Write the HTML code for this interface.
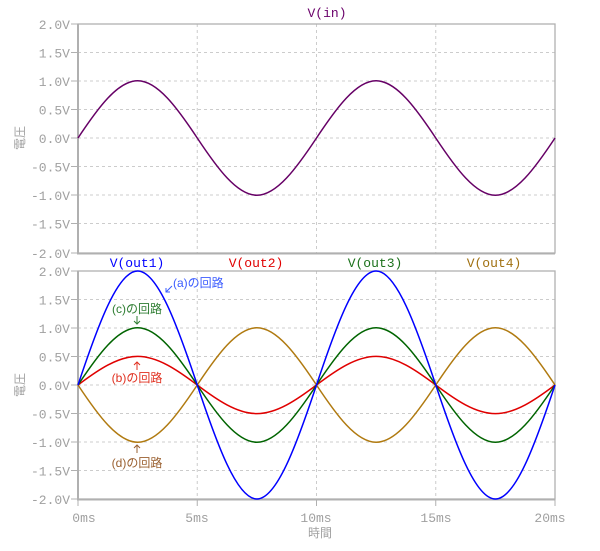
<!DOCTYPE html>
<html><head><meta charset="utf-8"><style>
html,body{margin:0;padding:0;background:#fff;}
svg{display:block;}
.tk{font-family:"Liberation Mono",monospace;font-size:13px;fill:#a0a0a0;}
.an{font-family:"Liberation Sans","Noto Sans CJK JP",sans-serif;font-size:12px;}
.yl{font-family:"Liberation Sans","Noto Sans CJK JP",sans-serif;font-size:12px;fill:#a0a0a0;}
</style></head><body>
<svg width="600" height="551" viewBox="0 0 600 551" xmlns="http://www.w3.org/2000/svg">
<g stroke="#cccccc" stroke-width="1" stroke-dasharray="3,3" fill="none">
<path d="M78,52.5H555M78,81H555M78,109.5H555M78,138H555M78,166.5H555M78,195H555M78,223.5H555M197.25,24V253M316.5,24V253M435.75,24V253"/>
<path d="M78,299.5H555M78,328H555M78,356.5H555M78,385H555M78,413.5H555M78,442H555M78,470.5H555M197.25,271V499M316.5,271V499M435.75,271V499"/>
</g>
<g stroke="#b0b0b0" fill="none">
<rect x="78" y="24" width="477" height="229" stroke-width="1.3"/>
<rect x="78" y="271" width="477" height="228" stroke-width="1.3"/>
<path d="M78,24V254M77,253.5H555M78,271V500M77,499.5H555" stroke-width="2"/>
<path d="M71,24H78M71,52.5H78M71,81H78M71,109.5H78M71,138H78M71,166.5H78M71,195H78M71,223.5H78M71,253H78"/>
<path d="M71,271H78M71,299.5H78M71,328H78M71,356.5H78M71,385H78M71,413.5H78M71,442H78M71,470.5H78M71,499H78"/>
<path d="M78,499V506M197.25,499V506M316.5,499V506M435.75,499V506M555,499V506"/>
</g>
<g class="tk" text-anchor="end">
<text x="70" y="29">2.0V</text><text x="70" y="57.5">1.5V</text><text x="70" y="86">1.0V</text><text x="70" y="114.5">0.5V</text><text x="70" y="143">0.0V</text><text x="70" y="171.5">-0.5V</text><text x="70" y="200">-1.0V</text><text x="70" y="228.5">-1.5V</text><text x="70" y="258">-2.0V</text>
<text x="70" y="276">2.0V</text><text x="70" y="304.5">1.5V</text><text x="70" y="333">1.0V</text><text x="70" y="361.5">0.5V</text><text x="70" y="390">0.0V</text><text x="70" y="418.5">-0.5V</text><text x="70" y="447">-1.0V</text><text x="70" y="475.5">-1.5V</text><text x="70" y="504">-2.0V</text>
</g>
<g class="tk" text-anchor="middle">
<text x="84" y="522">0ms</text><text x="197" y="522">5ms</text><text x="316" y="522">10ms</text><text x="436" y="522">15ms</text><text x="550" y="522">20ms</text>
</g>
<text class="yl" x="320" y="537" text-anchor="middle">時間</text>
<text class="yl" transform="translate(24,138) rotate(-90)" text-anchor="middle">電圧</text>
<text class="yl" transform="translate(24,385) rotate(-90)" text-anchor="middle">電圧</text>
<g class="tk" text-anchor="middle">
<text x="327" y="17" style="fill:#6a006a">V(in)</text>
<text x="137" y="267" style="fill:#0000ff">V(out1)</text>
<text x="256" y="267" style="fill:#e00000">V(out2)</text>
<text x="375" y="267" style="fill:#1a701a">V(out3)</text>
<text x="494" y="267" style="fill:#a07010">V(out4)</text>
</g>
<g fill="none" stroke-width="1.5">
<path stroke="#660066" d="M78,138 C97.93,107.94 117.73,80.75 137.625,80.75 S177.32,107.94 197.25,138 S236.98,195.25 256.875,195.25 S296.57,168.06 316.5,138 S356.23,80.75 376.125,80.75 S415.82,107.94 435.75,138 S475.48,195.25 495.375,195.25 S535.07,168.06 555,138"/>
<path stroke="#b07a10" d="M78,385 C97.93,415.06 117.73,442.25 137.625,442.25 S177.32,415.06 197.25,385 S236.98,327.75 256.875,327.75 S296.57,354.94 316.5,385 S356.23,442.25 376.125,442.25 S415.82,415.06 435.75,385 S475.48,327.75 495.375,327.75 S535.07,354.94 555,385"/>
<path stroke="#e00000" d="M78,385 C97.93,369.98 117.73,356.4 137.625,356.4 S177.32,369.98 197.25,385 S236.98,413.6 256.875,413.6 S296.57,400.02 316.5,385 S356.23,356.4 376.125,356.4 S415.82,369.98 435.75,385 S475.48,413.6 495.375,413.6 S535.07,400.02 555,385"/>
<path stroke="#006400" d="M78,385 C97.93,354.94 117.73,327.75 137.625,327.75 S177.32,354.94 197.25,385 S236.98,442.25 256.875,442.25 S296.57,415.06 316.5,385 S356.23,327.75 376.125,327.75 S415.82,354.94 435.75,385 S475.48,442.25 495.375,442.25 S535.07,415.06 555,385"/>
<path stroke="#0000ff" d="M78,385 C97.93,325.14 117.73,271 137.625,271 S177.32,325.14 197.25,385 S236.98,499 256.875,499 S296.57,444.86 316.5,385 S356.23,271 376.125,271 S415.82,325.14 435.75,385 S475.48,499 495.375,499 S535.07,444.86 555,385"/>
</g>
<g fill="none" stroke-width="1">
<path stroke="#3a5bff" d="M172,286L166,292M166,288V292H170"/>
<path stroke="#2e7d32" d="M137,316V324M134,321L137,324L140,321"/>
<path stroke="#e03020" d="M137,362V370M134,365L137,362L140,365"/>
<path stroke="#9a6030" d="M137,445V453M134,448L137,445L140,448"/>
</g>
<g class="an">
<text x="173" y="287" fill="#3a5bff">(a)の回路</text>
<text x="137" y="313" fill="#2e7d32" text-anchor="middle">(c)の回路</text>
<text x="137" y="382" fill="#e03020" text-anchor="middle">(b)の回路</text>
<text x="137" y="467" fill="#9a6030" text-anchor="middle">(d)の回路</text>
</g>
</svg>
</body></html>
